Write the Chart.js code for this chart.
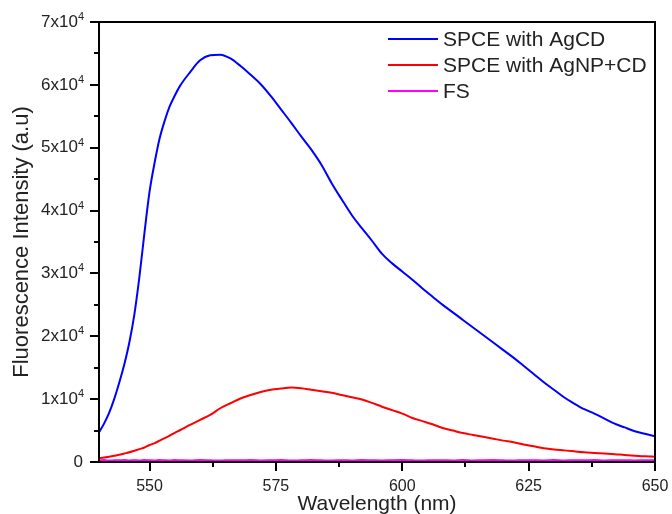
<!DOCTYPE html>
<html>
<head>
<meta charset="utf-8">
<script src="https://cdn.jsdelivr.net/npm/chart.js@4.4.1/dist/chart.umd.min.js"></script>
<style>
  html, body { margin: 0; padding: 0; background: #fff; }
  #wrap { position: relative; width: 672px; height: 514px; }
  #frame { position: absolute; box-sizing: border-box; border: 2px solid #000; pointer-events: none; }
</style>
</head>
<body>
<div id="wrap"><canvas id="chart" width="672" height="514"></canvas><div id="frame"></div></div>
<script>
// Data
const wavelengths = [540, 541, 542, 543, 544, 545, 546, 547, 548, 549, 550, 551, 552, 553, 554, 555, 556,
  558, 560, 562, 564, 566, 568, 570, 572, 574, 576, 578, 580, 582, 584, 586, 588, 590, 592, 594, 596, 598,
  600, 602, 604, 606, 608, 610, 612, 614, 616, 618, 620, 622, 624, 626, 628, 630, 632, 634, 636, 638, 640,
  642, 644, 646, 648, 650];
const spceAgCD = [4700, 6100, 7800, 10000, 12600, 15500, 19000, 23500, 29500, 36500, 43000, 47600, 51500, 54300, 56600, 58300, 59800,
  62000, 63900, 64700, 64800, 64200, 63000, 61600, 60100, 58200, 56100, 54000, 51800, 49700, 47300, 44400, 41800, 39300, 37200, 35200, 33100, 31600,
  30300, 29000, 27600, 26300, 25000, 23800, 22600, 21400, 20200, 19000, 17800, 16600, 15300, 14000, 12700, 11500, 10300, 9300, 8400, 7700, 6900,
  6100, 5500, 4900, 4500, 4100];
const spceAgNPCD = [600, 700, 850, 1000, 1150, 1350, 1550, 1800, 2050, 2300, 2700, 3000, 3400, 3800, 4200, 4650, 5050,
  5900, 6700, 7500, 8550, 9350, 10100, 10650, 11150, 11500, 11700, 11850, 11750, 11500, 11250, 11000, 10650, 10300, 9950, 9400, 8800, 8250,
  7700, 7000, 6500, 6000, 5400, 5000, 4600, 4300, 4000, 3700, 3400, 3150, 2800, 2500, 2200, 2000, 1850, 1700, 1550, 1450, 1350,
  1250, 1100, 1000, 900, 850];
const freeSpace = [250, 300, 220, 280, 260, 310, 240, 290, 230, 300, 270, 250, 320, 260, 240, 300,
  280, 250, 310, 270, 230, 290, 260, 300, 250, 280, 320, 240, 270, 300, 260, 230, 290, 250, 310, 270, 240,
  280, 300, 260, 230, 290, 270, 250, 310, 240, 280, 300, 260, 230, 290, 270, 250, 300, 240, 280, 260, 310,
  250, 270, 290, 240, 280, 260];
const seriesLabels = ['SPCE with AgCD', 'SPCE with AgNP+CD', 'FS'];
const seriesColors = ['#0000ff', '#ff0000', '#ff00ff'];
const xTickValues = [550, 575, 600, 625, 650];
const yTickValues = [0, 10000, 20000, 30000, 40000, 50000, 60000, 70000];

const FONT = "'Liberation Sans', Arial, sans-serif";
const TEXT_COLOR = '#222';
const AXIS_BORDER = { display: true, color: '#000000', width: 2 };

function toPoints(values) {
  return wavelengths.map((w, i) => ({ x: w, y: values[i] }));
}

// frame, major/minor ticks, y labels with exponent, legend
const framePlugin = {
  id: 'frame',
  afterDraw(chart) {
    const { ctx, chartArea } = chart;
    const xs = chart.scales.x;
    const ys = chart.scales.y;
    const left = chartArea.left;
    const right = chartArea.right;
    const top = chartArea.top;
    const bottom = chartArea.bottom;

    // box round the plot as a positioned element too
    const box = document.getElementById('frame');
    box.style.left = (left - 1) + 'px';
    box.style.top = (top - 1) + 'px';
    box.style.width = (right - left + 2) + 'px';
    box.style.height = (bottom - top + 2) + 'px';

    ctx.save();
    ctx.setLineDash([]);
    ctx.globalAlpha = 1;
    ctx.strokeStyle = '#000';
    ctx.lineWidth = 2;
    ctx.strokeRect(left, top, right - left, bottom - top);

    ctx.fillStyle = '#000';
    xTickValues.forEach((v, i) => {
      const px = Math.round(xs.getPixelForValue(v));
      ctx.fillRect(px - 1, bottom, 2, 9);
      if (i < xTickValues.length - 1) {
        const mx = Math.round(xs.getPixelForValue((v + xTickValues[i + 1]) / 2));
        ctx.fillRect(mx - 1, bottom, 2, 5);
      }
    });
    yTickValues.forEach((v, i) => {
      const py = Math.round(ys.getPixelForValue(v));
      ctx.fillRect(left - 9, py - 1, 9, 2);
      if (i < yTickValues.length - 1) {
        const my = Math.round(ys.getPixelForValue((v + yTickValues[i + 1]) / 2));
        ctx.fillRect(left - 5, my - 1, 5, 2);
      }
    });

    // y tick labels: "n x10" with a raised 4
    ctx.fillStyle = TEXT_COLOR;
    const labelRight = left - 15;
    yTickValues.forEach((v) => {
      const py = ys.getPixelForValue(v);
      ctx.font = '17px ' + FONT;
      ctx.textAlign = 'right';
      ctx.textBaseline = 'middle';
      if (v === 0) {
        ctx.fillText('0', labelRight - 1, py);
        return;
      }
      ctx.font = '11px ' + FONT;
      const supW = ctx.measureText('4').width;
      ctx.textAlign = 'left';
      ctx.textBaseline = 'alphabetic';
      ctx.fillText('4', labelRight - supW, py - 2);
      ctx.font = '17px ' + FONT;
      ctx.textAlign = 'right';
      ctx.textBaseline = 'middle';
      ctx.fillText((v / 10000) + 'x10', labelRight - supW, py);
    });

    // legend in the upper right corner of the plot
    const lx = right - 267;
    let ly = top + 17;
    ctx.font = '21px ' + FONT;
    ctx.textAlign = 'left';
    ctx.textBaseline = 'middle';
    chart.data.datasets.forEach((ds) => {
      ctx.fillStyle = ds.borderColor;
      ctx.fillRect(lx, ly - 1, 50, 2);
      ctx.fillStyle = TEXT_COLOR;
      ctx.fillText(ds.label, lx + 55, ly + 1);
      ly += 26;
    });
    ctx.restore();
  }
};

const chart = new Chart(document.getElementById('chart'), {
  type: 'line',
  data: {
    datasets: [
      { label: seriesLabels[0], data: toPoints(spceAgCD), borderColor: seriesColors[0] },
      { label: seriesLabels[1], data: toPoints(spceAgNPCD), borderColor: seriesColors[1] },
      { label: seriesLabels[2], data: toPoints(freeSpace), borderColor: seriesColors[2] },
    ].map((d) => Object.assign(d, { borderWidth: 2, pointRadius: 0, cubicInterpolationMode: 'monotone', fill: false })),
  },
  options: {
    responsive: false,
    animation: false,
    layout: { padding: { left: 0, top: 22, right: 17, bottom: 0 } },
    plugins: {
      legend: { display: false },
      tooltip: { enabled: false },
    },
    scales: {
      x: {
        type: 'linear',
        min: 540,
        max: 650,
        grid: { display: false },
        border: AXIS_BORDER,
        afterBuildTicks: (scale) => { scale.ticks = xTickValues.map((v) => ({ value: v })); },
        afterFit: (scale) => { scale.height = 52; scale.paddingLeft = 0; scale.paddingRight = 0; },
        ticks: {
          autoSkip: false,
          maxRotation: 0,
          padding: 7,
          color: TEXT_COLOR,
          font: { family: FONT, size: 16 },
        },
        title: {
          display: true,
          text: 'Wavelength (nm)',
          color: TEXT_COLOR,
          font: { family: FONT, size: 21 },
          padding: { top: 0, bottom: -3 },
        },
      },
      y: {
        min: 0,
        max: 70000,
        grid: { display: false },
        border: AXIS_BORDER,
        afterBuildTicks: (scale) => { scale.ticks = yTickValues.map((v) => ({ value: v })); },
        afterFit: (scale) => { scale.width = 99; scale.paddingTop = 0; scale.paddingBottom = 0; },
        ticks: { display: false },
        title: {
          display: true,
          text: 'Fluorescence Intensity (a.u)',
          color: TEXT_COLOR,
          font: { family: FONT, size: 22 },
          padding: { top: 9, bottom: 0 },
        },
      },
    },
  },
  plugins: [framePlugin],
});
</script>
</body>
</html>
